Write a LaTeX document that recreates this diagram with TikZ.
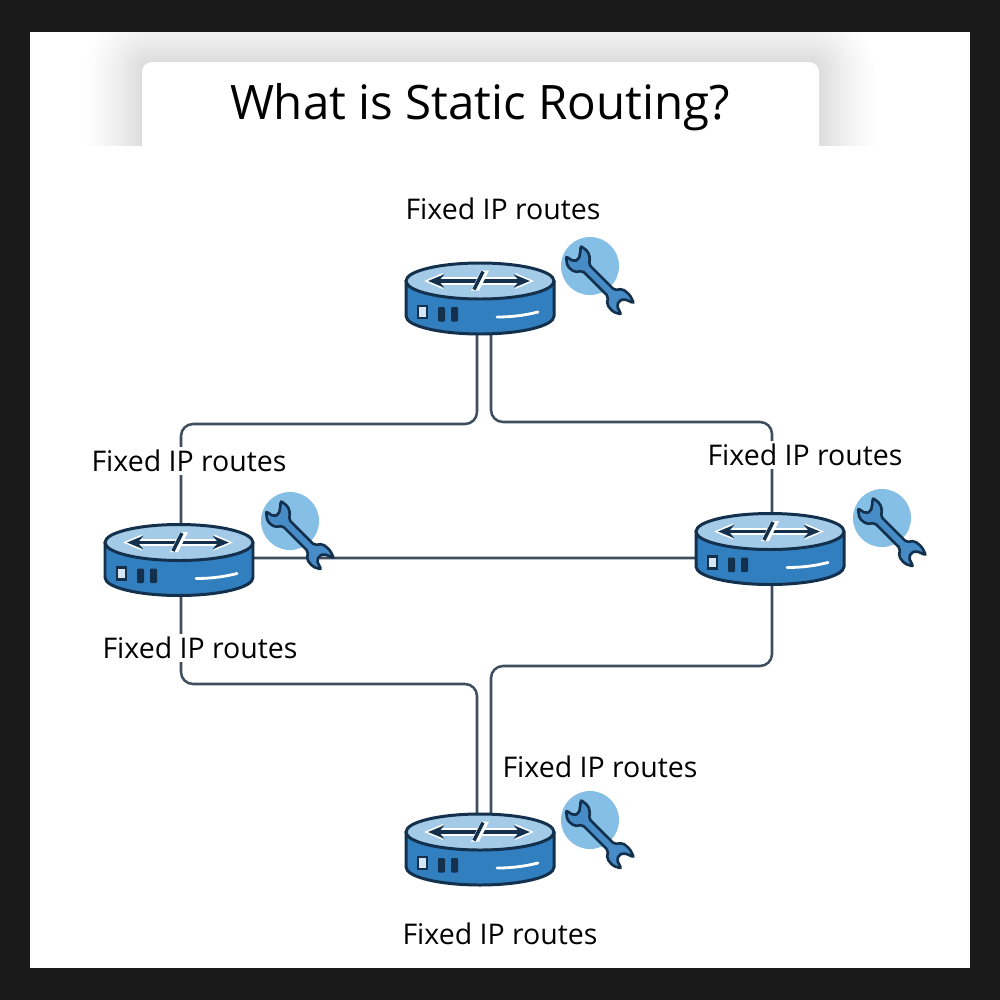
\documentclass[tikz,border=0pt]{standalone}
\usepackage{fontspec}
\setmainfont{Open Sans}
\usepackage{xcolor}
\usetikzlibrary{arrows.meta}
\definecolor{framebg}{HTML}{1A1A1A}
\definecolor{linkgray}{HTML}{3F4E5F}
\definecolor{navy}{HTML}{13304D}
\definecolor{bodyblue}{HTML}{327FC0}
\definecolor{topblue}{HTML}{A3CAE6}
\definecolor{toolblue}{HTML}{85BFE6}
\tikzset{
  link/.style={draw=linkgray, line width=0.72pt, rounded corners=0.12cm},
  routerbox/.style={inner sep=0pt, minimum width=1.48cm, minimum height=0.71cm},
  toolbox/.style={circle, fill=toolblue, inner sep=0pt, minimum size=0.58cm},
  routelabel/.style={fill=white, inner sep=1pt, font=\fontsize{8.1}{10}\selectfont},
  routerpic/.pic={
    \draw[navy, line width=0.85pt, fill=bodyblue] (-74,-17.5) -- (-74,17.5) arc[start angle=180, end angle=0, x radius=74, y radius=18] -- (74,-17.5);
    \draw[navy, line width=0.85pt, fill=topblue] (0,-17.5) ellipse (74 and 18);
    \draw[white, line width=2.2pt, {Stealth[length=0.19cm,width=0.16cm]}-{Stealth[length=0.19cm,width=0.16cm]}] (-56,-17.5) -- (54,-17.5);
    \draw[navy, line width=1pt, {Stealth[length=0.16cm,width=0.13cm]}-{Stealth[length=0.16cm,width=0.13cm]}] (-52,-17.5) -- (50,-17.5);
    \fill[white] (1,-28) -- (9,-28) -- (-1,-8) -- (-9,-8) -- cycle;
    \draw[navy, line width=1pt] (3,-27) -- (-6,-9);
    \draw[navy, fill=white!80!bodyblue, line width=0.6pt] (-62,7.5) rectangle (-53,19.5);
    \fill[navy, rounded corners=0.3pt] (-42,8.5) rectangle (-35,23);
    \fill[navy, rounded corners=0.3pt] (-29,8.5) rectangle (-22,23);
    \draw[white, line width=0.8pt, line cap=round] (17,18.5) .. controls (35,18.5) and (48,16) .. (58,13.5);
  },
  wrenchpic/.pic={
    \draw[navy, line width=0.75pt, fill=bodyblue!90!white, rounded corners=0.02cm, shift={(-12,-6)}, rotate=-45]
      (11,-4.5) -- (47,-4.5) -- (52,-11) -- (61,-12) -- (70,-9) -- (60,-5) -- (58,0) -- (60,5) -- (69,8)
      -- (61,12) -- (52,11) -- (47,4.5) -- (11,4.5) -- (6,11) -- (-3,12) -- (-11,6) -- (-2,4) -- (0,-1)
      -- (-3,-6) -- (-8,-12) -- (1,-13) -- (7,-10) -- cycle;
  }
}

\begin{document}
\begin{tikzpicture}[x=0.01cm, y=-0.01cm]
  \useasboundingbox (0,0) rectangle (1000,1000);
  % frame and panel
  \fill[framebg] (0,0) rectangle (1000,1000);
  \fill[white] (30,32) rectangle (970,968);
  % title card with its soft shadow
  \begin{scope}
    \clip (30,32) rectangle (970,145);
    \foreach \s in {58,56,...,2}{
      \pgfmathsetmacro{\shade}{14*(1-\s/60)^1.4}
      \pgfmathsetmacro{\bend}{0.1+\s*0.01}
      \fill[black!\shade!white, rounded corners=\bend cm] (142-\s,62-\s) rectangle (819+\s,260);
    }
    \fill[white, rounded corners=0.1cm] (142,62) rectangle (819,200);
  \end{scope}
  \node[inner sep=0pt, font=\fontsize{13.5}{17}\selectfont] (title) at (480,107) {What is Static Routing?};

  % routers
  \node[routerbox] (rtop) at (480,298.5) {};
  \node[routerbox] (rleft) at (179,560) {};
  \node[routerbox] (rright) at (770,549) {};
  \node[routerbox] (rbottom) at (480,849.5) {};

  % links
  \draw[link] ([xshift=-0.03cm]rtop.south) |- ([xshift=0.02cm]rleft.north |- 0,424) -- ([xshift=0.02cm]rleft.north);
  \draw[link] ([xshift=0.11cm]rtop.south) |- ([xshift=0.02cm]rright.north |- 0,422) -- ([xshift=0.02cm]rright.north);
  \draw[link] ([yshift=0.02cm]rleft.east) -- ([yshift=-0.09cm]rright.west);
  \draw[link] ([xshift=0.02cm]rleft.south) |- ([xshift=-0.03cm]rbottom.north |- 0,684) -- ([xshift=-0.03cm]rbottom.north);
  \draw[link] ([xshift=0.02cm]rright.south) |- ([xshift=0.11cm]rbottom.north |- 0,666) -- ([xshift=0.11cm]rbottom.north);

  \pic at (rtop) {routerpic};
  \pic at (rleft) {routerpic};
  \pic at (rright) {routerpic};
  \pic at (rbottom) {routerpic};

  % tools
  \node[toolbox] (wtop) at (590,266) {};
  \node[toolbox] (wleft) at (290,521) {};
  \node[toolbox] (wright) at (882,518) {};
  \node[toolbox] (wbottom) at (590,820) {};
  \pic at (wtop) {wrenchpic};
  \pic at (wleft) {wrenchpic};
  \pic at (wright) {wrenchpic};
  \pic at (wbottom) {wrenchpic};

  % labels
  \node[routelabel] (ltop) at (503,209) {Fixed IP routes};
  \node[routelabel] (lleft) at (189,461) {Fixed IP routes};
  \node[routelabel] (lright) at (805,455) {Fixed IP routes};
  \node[routelabel] (llow) at (200,648) {Fixed IP routes};
  \node[routelabel] (lbelow) at (600,767) {Fixed IP routes};
  \node[routelabel] (lbottom) at (500,934) {Fixed IP routes};
\end{tikzpicture}
\end{document}
